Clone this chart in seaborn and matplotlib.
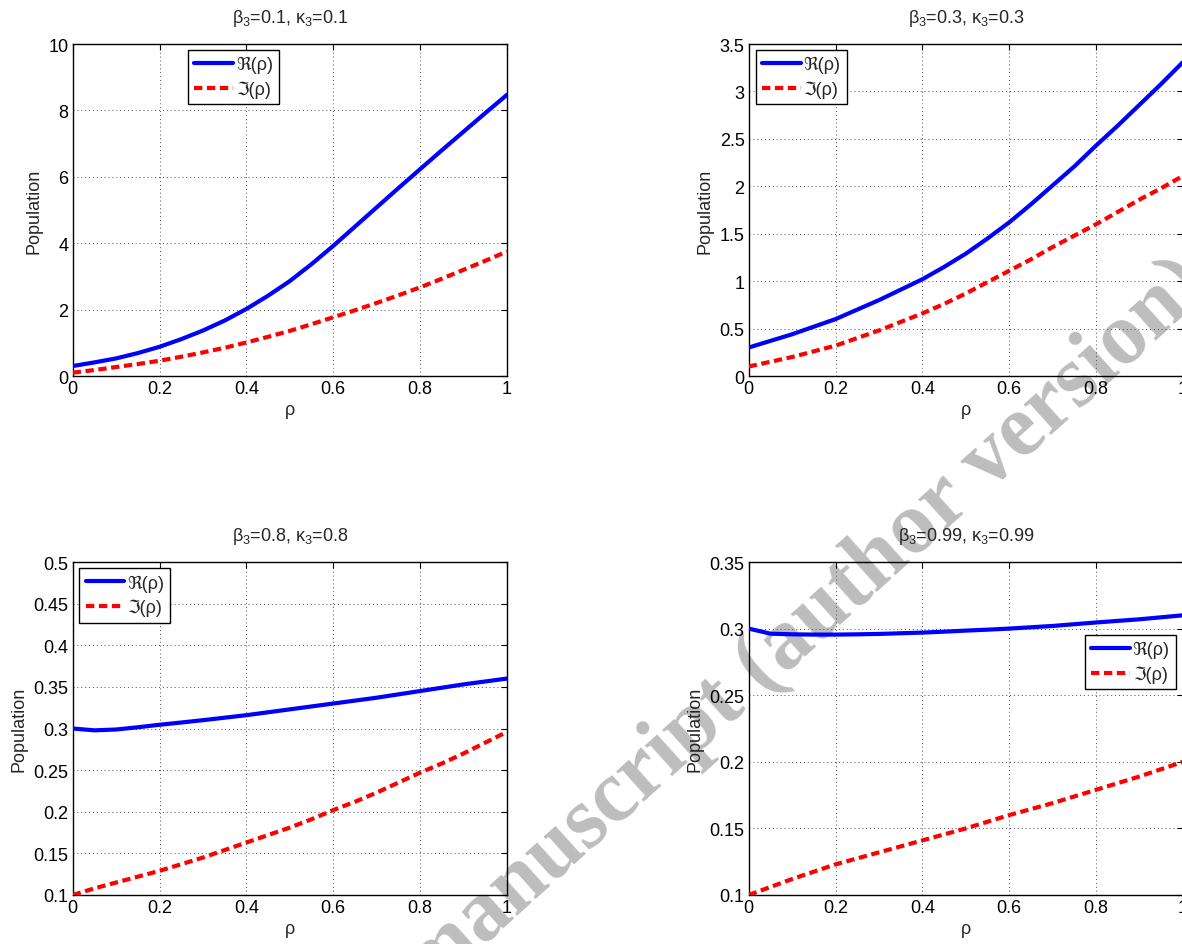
import numpy as np
import matplotlib
matplotlib.use("Agg")
import matplotlib.pyplot as plt
import seaborn as sns
from matplotlib.ticker import FormatStrFormatter

# ---- data ----
rho = [0.00, 0.05, 0.10, 0.15, 0.20, 0.25, 0.30, 0.35, 0.40, 0.45, 0.50,
       0.55, 0.60, 0.65, 0.70, 0.75, 0.80, 0.85, 0.90, 0.95, 1.00]

titles = [r"$\beta_3$=0.1, $\kappa_3$=0.1",
          r"$\beta_3$=0.3, $\kappa_3$=0.3",
          r"$\beta_3$=0.8, $\kappa_3$=0.8",
          r"$\beta_3$=0.99, $\kappa_3$=0.99"]

re_01 = [0.30, 0.41, 0.53, 0.69, 0.88, 1.11, 1.37, 1.67, 2.02, 2.42, 2.86,
         3.37, 3.92, 4.50, 5.08, 5.66, 6.23, 6.80, 7.36, 7.92, 8.47]
im_01 = [0.10, 0.18, 0.27, 0.36, 0.46, 0.58, 0.71, 0.85, 1.01, 1.18, 1.36,
         1.56, 1.77, 1.98, 2.20, 2.43, 2.67, 2.93, 3.20, 3.47, 3.75]

re_03 = [0.30, 0.37, 0.44, 0.52, 0.60, 0.70, 0.80, 0.91, 1.02, 1.15, 1.29,
         1.45, 1.62, 1.81, 2.01, 2.21, 2.43, 2.64, 2.86, 3.08, 3.31]
im_03 = [0.10, 0.15, 0.20, 0.26, 0.32, 0.40, 0.48, 0.57, 0.66, 0.76, 0.87,
         0.99, 1.11, 1.23, 1.36, 1.48, 1.60, 1.73, 1.86, 1.98, 2.11]

re_08 = [0.3000, 0.2978, 0.2988, 0.3015, 0.3045, 0.3072, 0.3100, 0.3130, 0.3160, 0.3195, 0.3230,
         0.3265, 0.3300, 0.3335, 0.3370, 0.3410, 0.3450, 0.3490, 0.3530, 0.3565, 0.3600]
im_08 = [0.100, 0.108, 0.115, 0.122, 0.129, 0.137, 0.145, 0.154, 0.163, 0.172, 0.181,
         0.191, 0.202, 0.212, 0.223, 0.235, 0.247, 0.258, 0.270, 0.283, 0.296]

re_099 = [0.3000, 0.2962, 0.2957, 0.2955, 0.2955, 0.2957, 0.2960, 0.2965, 0.2970, 0.2977, 0.2985,
          0.2992, 0.3000, 0.3010, 0.3020, 0.3033, 0.3046, 0.3058, 0.3070, 0.3085, 0.3100]
im_099 = [0.100, 0.106, 0.112, 0.1175, 0.123, 0.1275, 0.132, 0.1365, 0.141, 0.1455, 0.150,
          0.155, 0.160, 0.1645, 0.169, 0.174, 0.179, 0.184, 0.189, 0.1945, 0.200]

real_series = [re_01, re_03, re_08, re_099]
imag_series = [im_01, im_03, im_08, im_099]

ylims = [(0, 10), (0, 3.5), (0.1, 0.5), (0.1, 0.35)]
yticks = [[0, 2, 4, 6, 8, 10],
          [0, 0.5, 1, 1.5, 2, 2.5, 3, 3.5],
          [0.1, 0.15, 0.2, 0.25, 0.3, 0.35, 0.4, 0.45, 0.5],
          [0.1, 0.15, 0.2, 0.25, 0.3, 0.35]]
xticks = [0, 0.2, 0.4, 0.6, 0.8, 1]

legend_labels = ["ℜ(ρ)", "ℑ(ρ)"]
watermark = "Accepted manuscript (author version)"

# ---- style ----
sns.set_theme(style="white")
plt.rcParams["font.family"] = ["Liberation Sans", "DejaVu Sans"]
plt.rcParams["mathtext.fontset"] = "custom"
plt.rcParams["mathtext.rm"] = "Liberation Sans"
plt.rcParams["mathtext.it"] = "Liberation Sans"
plt.rcParams["mathtext.bf"] = "Liberation Sans:bold"
plt.rcParams["lines.dashed_pattern"] = [2.0, 1.1]
plt.rcParams["lines.scale_dashes"] = True
plt.rcParams["lines.solid_joinstyle"] = "round"
plt.rcParams["lines.dash_joinstyle"] = "round"

W, H = 1182, 945
fig = plt.figure(figsize=(W / 100, H / 100), dpi=100)

# axes boxes in pixels: left, top, right, bottom
boxes = [(72.7, 45, 507, 377),
         (748.7, 45, 1183, 377),
         (72.7, 563, 507, 896),
         (748.7, 563, 1183, 896)]

legend_specs = [dict(loc="upper left", bbox_to_anchor=(0.2655, 0.982)),
                dict(loc="upper left", bbox_to_anchor=(0.016, 0.982)),
                dict(loc="upper left", bbox_to_anchor=(0.015, 0.981)),
                dict(loc="upper right", bbox_to_anchor=(0.984, 0.781))]

for i in range(4):
    l, t, r, b = boxes[i]
    ax = fig.add_axes([l / W, 1 - b / H, (r - l) / W, (b - t) / H])
    ax.set_facecolor("none")
    ax.set_axisbelow(True)

    sns.lineplot(x=rho, y=real_series[i], ax=ax, color=(0, 0, 1), lw=3,
                 label=legend_labels[0], zorder=3)
    sns.lineplot(x=rho, y=imag_series[i], ax=ax, color=(1, 0, 0), lw=3,
                 linestyle="--", label=legend_labels[1], zorder=3)

    ax.set_xlim(0, 1)
    ax.set_ylim(*ylims[i])
    ax.set_xticks(xticks)
    ax.set_yticks(yticks[i])
    ax.xaxis.set_major_formatter(FormatStrFormatter("%g"))
    ax.yaxis.set_major_formatter(FormatStrFormatter("%g"))
    ax.tick_params(direction="in", length=4, width=0.8, top=True, right=True,
                   labelsize=13, colors="black", pad=3)
    ax.grid(True, linestyle=(0, (1, 3)), color="0.3", lw=0.7)
    for s in ax.spines.values():
        s.set_visible(True)
        s.set_color("black")
        s.set_linewidth(1.0)

    ax.set_xlabel("ρ", fontsize=13, labelpad=3)
    ax.set_ylabel("Population", fontsize=13, labelpad=4)
    ax.set_title(titles[i], fontsize=13, pad=16)

    leg = ax.legend(fontsize=13, frameon=True, fancybox=False, framealpha=1,
                    edgecolor="black", handlelength=2.15, handletextpad=0.15,
                    borderpad=0.35, labelspacing=0.4, borderaxespad=0,
                    **legend_specs[i])
    leg.get_frame().set_linewidth(1.0)

fig.text(1212 / W, 1 - 290 / H, watermark, rotation=42, rotation_mode="anchor",
         ha="right", va="baseline", fontsize=63, fontweight="bold",
         family="Liberation Serif", color="#bdbdbd", zorder=-1)

fig.savefig("out.png", dpi=100, facecolor="white")
